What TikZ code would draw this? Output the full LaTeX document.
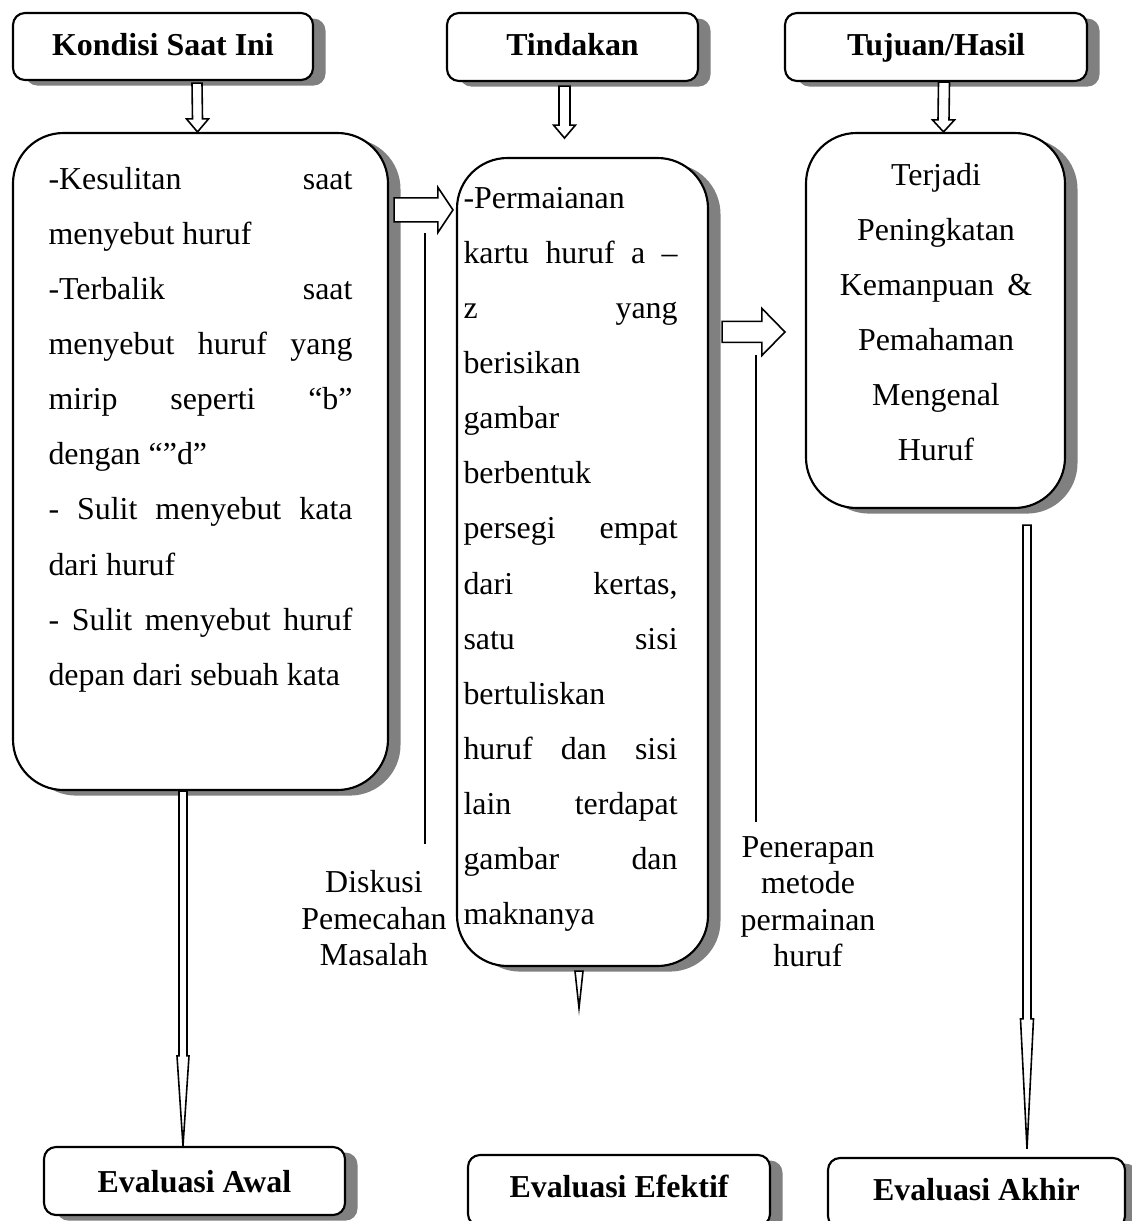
\documentclass[tikz,border=0pt]{standalone}
\usepackage{fontspec}
\setmainfont{Liberation Serif}
\usetikzlibrary{calc}
\usetikzlibrary{fit}
\usetikzlibrary{shadows}
\definecolor{shadowgray}{RGB}{128,128,128}

% hollow block arrows, sizes in picture units
\newcommand{\hollowdown}[5]{%
  \draw[hollow] ($(#1)+(-#3,0)$) -- ($(#2)+(-#3,-#5)$) -- ($(#2)+(-#4,-#5)$) -- (#2)
    -- ($(#2)+(#4,-#5)$) -- ($(#2)+(#3,-#5)$) -- ($(#1)+(#3,0)$) -- cycle;}
\newcommand{\hollowright}[5]{%
  \draw[hollow] ($(#1)+(0,-#3)$) -- ($(#2)+(-#5,-#3)$) -- ($(#2)+(-#5,-#4)$) -- (#2)
    -- ($(#2)+(-#5,#4)$) -- ($(#2)+(-#5,#3)$) -- ($(#1)+(0,#3)$) -- cycle;}
\newcommand{\fillleft}[1]{\makebox[114.3pt][s]{#1}}
\newcommand{\fillmid}[1]{\makebox[80.5pt][s]{#1}}

\begin{document}
\begin{tikzpicture}[x=0.376pt, y=-0.376pt]
            \tikzstyle{header} = [draw, thick, fill=white, rounded corners=4.5pt, inner sep=0pt, drop shadow={shadow xshift=4.7pt, shadow yshift=-2.1pt, fill=shadowgray, opacity=1}]
            \tikzstyle{headtext} = [inner sep=0pt, anchor=base, font=\fontsize{12pt}{14pt}\selectfont\bfseries]
            \tikzstyle{bigbox} = [draw, thick, fill=white, rounded corners=19pt, inner sep=0pt, drop shadow={shadow xshift=4.7pt, shadow yshift=-2.1pt, fill=shadowgray, opacity=1}]
            \tikzstyle{boxtext} = [inner sep=0pt, font=\fontsize{12pt}{20.7pt}\selectfont]
            \tikzstyle{note} = [inner sep=0pt, align=center, font=\fontsize{12pt}{13.7pt}\selectfont]
            \tikzstyle{hollow} = [semithick, fill=white]
            \tikzstyle{leader} = [thick]
            \useasboundingbox (0,0) rectangle (1131,1221);
            % top row
            \node[header, fit={(13,13) (313,80)}] (kondisi) {};
            \node[headtext] (kondisitext) at ($(kondisi.center)+(0,8.5)$) {Kondisi Saat Ini};
            \node[header, fit={(447,13) (698,81)}] (tindakan) {};
            \node[headtext] (tindakantext) at ($(tindakan.center)+(0,8)$) {Tindakan};
            \node[header, fit={(785,13) (1087,81)}] (tujuan) {};
            \node[headtext] (tujuantext) at ($(tujuan.center)+(0,8)$) {Tujuan/Hasil};
            % middle row
            \node[bigbox, fit={(13,133) (388,790)}] (kondisibox) {};
            \node[bigbox, fit={(457,158) (708,966)}] (tindakanbox) {};
            \node[bigbox, fit={(806,133) (1065,508)}] (tujuanbox) {};
            \node[boxtext, align=left, anchor=north west] (kesulitan) at (48,167) {%
                \fillleft{-Kesulitan saat}\\
                menyebut huruf\\
                \fillleft{-Terbalik saat}\\
                \fillleft{menyebut huruf yang}\\
                \fillleft{mirip seperti “b”}\\
                dengan “”d”\\
                \fillleft{- Sulit menyebut kata}\\
                dari huruf\\
                \fillleft{- Sulit menyebut huruf}\\
                depan dari sebuah kata};
            \node[boxtext, align=left, anchor=north west] (permainan) at (463,187) {%
                -Permaianan\\
                \fillmid{kartu huruf a –}\\
                \fillmid{z yang}\\
                berisikan\\
                gambar\\
                berbentuk\\
                \fillmid{persegi empat}\\
                \fillmid{dari kertas,}\\
                \fillmid{satu sisi}\\
                bertuliskan\\
                \fillmid{huruf dan sisi}\\
                \fillmid{lain terdapat}\\
                \fillmid{gambar dan}\\
                maknanya};
            \node[boxtext, align=center, anchor=north] (peningkatan) at (936,163) {%
                Terjadi\\ Peningkatan\\ Kemanpuan\hspace{2pt} \&\\ Pemahaman\\ Mengenal\\ Huruf};
            \node[note, anchor=north] (diskusi) at (374,870) {Diskusi\\ Pemecahan\\ Masalah};
            \node[note, anchor=north] (penerapan) at (808,836) {Penerapan\\ metode\\ permainan\\ huruf};
            % bottom row
            \node[header, fit={(44,1147) (345,1215)}] (awal) {};
            \node[headtext] (awaltext) at ($(awal.center)+(0,11)$) {Evaluasi Awal};
            \node[header, fit={(468,1155) (770,1226)}] (efektif) {};
            \node[headtext] (efektiftext) at ($(efektif.center)+(0,6.5)$) {Evaluasi Efektif};
            \node[header, fit={(828,1158) (1125,1228)}] (akhir) {};
            \node[headtext] (akhirtext) at ($(akhir.center)+(0,7)$) {Evaluasi Akhir};
            % arrows
            \coordinate (k1) at ($(kondisi.south)+(34,2)$);
            \coordinate (k2) at ($(kondisibox.north)+(-3,0)$);
            \hollowdown{k1}{k2}{5}{11}{13}
            \coordinate (t1) at ($(tindakan.south)+(-8,4)$);
            \coordinate (t2) at ($(t1)+(0,52)$);
            \hollowdown{t1}{t2}{5.5}{11}{13}
            \coordinate (j1) at ($(tujuan.south)+(8,0)$);
            \coordinate (j2) at ($(tujuanbox.north)+(8,0)$);
            \hollowdown{j1}{j2}{5.5}{11}{12}
            \coordinate (h1) at ($(kondisibox.north east)+(5,78)$);
            \coordinate (h2) at ($(tindakanbox.north west)+(-3,53)$);
            \hollowright{h1}{h2}{12}{22.5}{15}
            \coordinate (h3) at ($(tindakanbox.north east)+(13,175)$);
            \coordinate (h4) at ($(tujuanbox.north west)+(-20,200)$);
            \hollowright{h3}{h4}{10.5}{23.5}{23}
            \coordinate (a1) at ($(kondisibox.south)+(-17.5,0)$);
            \coordinate (a2) at (a1 |- awal.north);
            \hollowdown{a1}{a2}{4}{6}{90}
            \coordinate (v1) at ($(tindakanbox.south)+(-3.5,4)$);
            \coordinate (v2) at ($(v1)+(0,37)$);
            \hollowdown{v1}{v2}{4}{4}{37}
            \coordinate (r1) at ($(tujuanbox.south)+(91.5,16)$);
            \coordinate (r2) at ($(r1 |- akhir.north)+(0,-8)$);
            \hollowdown{r1}{r2}{4}{6.5}{130}
            % leader lines
            \coordinate (l1) at ($(diskusi.north)+(51,-637)$);
            \draw[leader] (l1) -- ($(l1 |- diskusi.north)+(0,-26)$);
            \coordinate (l2) at ($(penerapan.north)+(-52,-481)$);
            \draw[leader] (l2) -- ($(l2 |- penerapan.north)+(0,-14)$);
        \end{tikzpicture}
\end{document}
